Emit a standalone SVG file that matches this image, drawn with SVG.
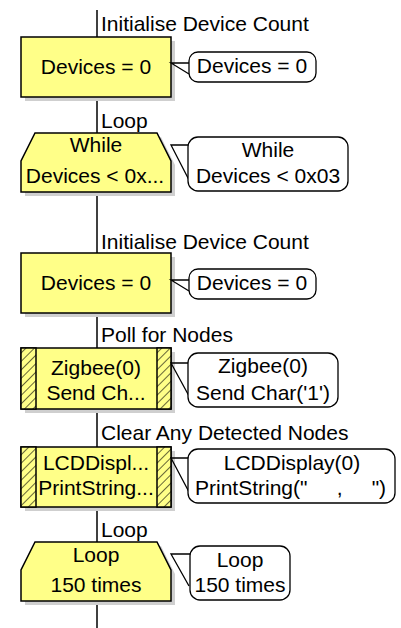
<svg xmlns="http://www.w3.org/2000/svg" width="401" height="628" viewBox="0 0 401 628">
  <style>
    .t { font-family: "Liberation Sans", Arial, sans-serif; font-size: 21px; fill: #000; }
    .c { text-anchor: middle; }
    .icon { fill: #ffff88; stroke: #000; stroke-width: 1.5; }
    .shadow { fill: #cfcfcf; }
    .panel { fill: url(#hatch); stroke: #000; stroke-width: 1.5; }
    .note { fill: #fff; stroke: #000; stroke-width: 1.3; }
    .tail { fill: none; stroke: #000; stroke-width: 1.3; }
    .flow { stroke: #000; stroke-width: 1.5; fill: none; }
  </style>
  <defs>
    <pattern id="hatch" width="6" height="6" patternUnits="userSpaceOnUse" patternTransform="rotate(45)">
      <rect width="6" height="6" fill="#ffff88"/>
      <line x1="0" y1="0" x2="0" y2="6" stroke="#000" stroke-width="1.2"/>
    </pattern>
  </defs>
  <rect width="401" height="628" fill="#fff"/>

  <!-- main flow line -->
  <g id="connectors">
    <line class="flow" x1="97" y1="10" x2="97" y2="628"/>
  </g>

  <!-- calculation: Devices = 0 -->
  <g id="init1">
    <text class="t" x="101" y="31">Initialise Device Count</text>
    <rect class="shadow" x="25" y="41" width="150" height="60"/>
    <rect class="icon" x="21" y="37" width="150" height="60"/>
    <text class="t c" x="96" y="74">Devices = 0</text>
    <polyline class="tail" points="191,63 171,63 189,74"/>
    <rect class="note" x="189" y="52" width="127" height="30" rx="9"/>
    <text class="t c" x="252" y="73">Devices = 0</text>
  </g>

  <!-- while loop -->
  <g id="while">
    <text class="t" x="101" y="128">Loop</text>
    <path class="shadow" d="M39,137 L161,137 L175,165 L175,196 L25,196 L25,165 Z"/>
    <path class="icon" d="M35,133 L157,133 L171,161 L171,192 L21,192 L21,161 Z"/>
    <text class="t c" x="96" y="152">While</text>
    <text class="t c" x="95" y="183">Devices &lt; 0x...</text>
    <polyline class="tail" points="190,145 171,145 189,180"/>
    <rect class="note" x="188" y="137" width="160" height="54" rx="10"/>
    <text class="t c" x="268" y="157">While</text>
    <text class="t c" x="268" y="183">Devices &lt; 0x03</text>
  </g>

  <!-- calculation: Devices = 0 -->
  <g id="init2">
    <text class="t" x="101" y="249">Initialise Device Count</text>
    <rect class="shadow" x="25" y="257" width="150" height="60"/>
    <rect class="icon" x="21" y="253" width="150" height="60"/>
    <text class="t c" x="96" y="290">Devices = 0</text>
    <polyline class="tail" points="191,280 171,280 189,291"/>
    <rect class="note" x="189" y="269" width="127" height="30" rx="9"/>
    <text class="t c" x="252" y="290">Devices = 0</text>
  </g>

  <!-- component macro: Zigbee -->
  <g id="zigbee">
    <text class="t" x="101" y="342">Poll for Nodes</text>
    <rect class="shadow" x="25" y="352" width="150" height="61"/>
    <rect class="icon" x="21" y="348" width="150" height="61"/>
    <rect class="panel" x="21" y="348" width="15" height="61"/>
    <rect class="panel" x="157" y="348" width="14" height="61"/>
    <text class="t c" x="96" y="375">Zigbee(0)</text>
    <text class="t c" x="96" y="400">Send Ch...</text>
    <polyline class="tail" points="190,363 171,363 189,396"/>
    <rect class="note" x="188" y="353" width="150" height="54" rx="10"/>
    <text class="t c" x="263" y="373">Zigbee(0)</text>
    <text class="t c" x="263" y="400">Send Char('1')</text>
  </g>

  <!-- component macro: LCD -->
  <g id="lcd">
    <text class="t" x="101" y="440">Clear Any Detected Nodes</text>
    <rect class="shadow" x="25" y="451" width="150" height="60"/>
    <rect class="icon" x="21" y="447" width="150" height="60"/>
    <rect class="panel" x="21" y="447" width="15" height="60"/>
    <rect class="panel" x="157" y="447" width="14" height="60"/>
    <text class="t c" x="96" y="470">LCDDispl...</text>
    <text class="t c" x="96" y="495">PrintString...</text>
    <polyline class="tail" points="191,458 171,458 189,492"/>
    <rect class="note" x="188" y="449" width="207" height="54" rx="10"/>
    <text class="t c" x="292" y="470">LCDDisplay(0)</text>
    <text class="t" x="195" y="495" xml:space="preserve">PrintString("     ,     ")</text>
  </g>

  <!-- loop count -->
  <g id="loop150">
    <text class="t" x="101" y="537">Loop</text>
    <path class="shadow" d="M39,546 L161,546 L175,574 L175,605 L25,605 L25,574 Z"/>
    <path class="icon" d="M35,542 L157,542 L171,570 L171,601 L21,601 L21,570 Z"/>
    <text class="t c" x="96" y="562">Loop</text>
    <text class="t c" x="96" y="592">150 times</text>
    <polyline class="tail" points="191,554 171,554 189,586"/>
    <rect class="note" x="190" y="546" width="100" height="54" rx="10"/>
    <text class="t c" x="240" y="567">Loop</text>
    <text class="t c" x="240" y="592">150 times</text>
  </g>
</svg>
